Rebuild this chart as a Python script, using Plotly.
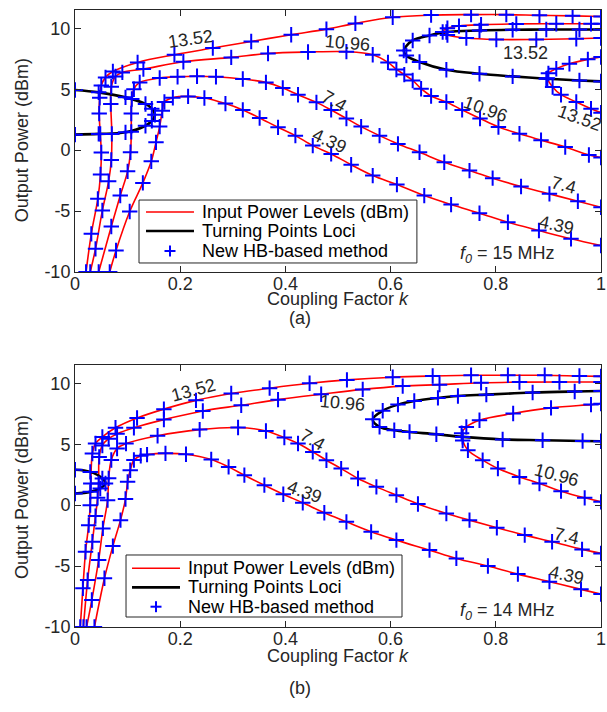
import plotly.graph_objects as go

# ================= panel (a): f0 = 15 MHz =================
a_k_4p39 = [0.066, 0.078, 0.104, 0.129, 0.145, 0.154, 0.161, 0.166, 0.170, 0.186, 0.215, 0.246, 0.286, 0.319, 0.351, 0.386, 0.419, 0.452, 0.487, 0.525, 0.566, 0.612, 0.664, 0.715, 0.769, 0.823, 0.882, 0.943, 1.0]
a_p_4p39 = [-10.0, -8.24, -5.04, -2.69, -0.92, 0.64, 1.93, 3.24, 3.95, 4.3, 4.41, 4.28, 3.82, 3.3, 2.64, 1.87, 1.19, 0.37, -0.31, -1.2, -2.09, -2.83, -3.73, -4.47, -5.18, -5.92, -6.6, -7.28, -7.83]

a_k_7p4 = [0.045, 0.069, 0.086, 0.100, 0.1055, 0.107, 0.107, 0.108, 0.112, 0.123, 0.161, 0.195, 0.232, 0.268, 0.319, 0.363, 0.395, 0.424, 0.459, 0.487, 0.516, 0.544, 0.579, 0.614, 0.655, 0.702, 0.750, 0.794, 0.848, 0.902, 0.956, 1.0]
a_p_7p4 = [-10.0, -6.27, -3.73, -1.74, -0.18, 1.5, 3.0, 4.2, 5.0, 5.56, 5.92, 6.02, 6.06, 6.02, 5.84, 5.56, 5.1, 4.55, 3.92, 3.3, 2.6, 1.93, 1.19, 0.51, -0.18, -1.0, -1.68, -2.3, -2.99, -3.59, -4.2, -4.69]

a_k_10p96 = [0.029, 0.039, 0.052, 0.064, 0.069, 0.070, 0.068, 0.069, 0.077, 0.090, 0.130, 0.206, 0.297, 0.367, 0.443, 0.516, 0.566, 0.595, 0.611, 0.626, 0.642, 0.658, 0.677, 0.706, 0.736, 0.770, 0.805, 0.845, 0.886, 0.932, 0.977, 1.0]
a_p_10p96 = [-10.0, -8.1, -4.96, -2.55, -0.8, 1.33, 3.79, 5.2, 6.05, 6.38, 6.65, 7.25, 7.61, 7.93, 8.05, 8.08, 7.83, 7.2, 6.62, 6.2, 5.72, 5.04, 4.44, 3.95, 3.3, 2.6, 1.9, 1.34, 0.82, 0.25, -0.4, -0.6]

a_k_13p52 = [0.021, 0.031, 0.0434, 0.0485, 0.050, 0.048, 0.046, 0.047, 0.050, 0.058, 0.072, 0.119, 0.189, 0.262, 0.335, 0.411, 0.478, 0.533, 0.604, 0.677, 0.753, 0.820, 0.883, 0.946, 1.0]
a_p_13p52 = [-10.0, -6.87, -4.0, -2.0, -0.2, 1.33, 3.0, 4.3, 5.3, 5.97, 6.45, 7.2, 7.83, 8.38, 8.92, 9.47, 9.93, 10.4, 10.9, 11.08, 11.12, 11.12, 11.06, 11.02, 10.97]

a_k_13p52_isola = [1.0, 0.981, 0.915, 0.839, 0.772, 0.730, 0.708, 0.699, 0.708, 0.744, 0.801, 0.877, 0.953, 1.0]
a_p_13p52_isola = [10.37, 10.37, 10.37, 10.36, 10.29, 10.18, 10.0, 9.69, 9.45, 9.2, 9.08, 9.08, 9.14, 9.2]

a_k_13p52_right = [1.0, 0.975, 0.940, 0.915, 0.900, 0.898, 0.908, 0.924, 0.953, 0.981, 1.0]
a_p_13p52_right = [7.64, 7.45, 7.09, 6.68, 6.3, 5.9, 5.18, 4.55, 3.95, 3.4, 3.07]

a_k_loci_left = [0.0, 0.045, 0.096, 0.134, 0.146, 0.152, 0.146, 0.134, 0.096, 0.045, 0.0]
a_p_loci_left = [4.93, 4.74, 4.33, 3.79, 3.4, 2.9, 2.4, 2.0, 1.46, 1.33, 1.27]

a_k_loci_right = [1.0, 0.959, 0.896, 0.832, 0.769, 0.706, 0.674, 0.642, 0.625, 0.630, 0.655, 0.706, 0.769, 0.832, 0.896, 0.959, 1.0]
a_p_loci_right = [9.9, 9.9, 9.9, 9.88, 9.82, 9.69, 9.41, 9.0, 8.18, 7.77, 7.23, 6.6, 6.27, 6.05, 5.86, 5.72, 5.64]

a_lbl_text = ["13.52", "10.96", "7.4", "4.39", "10.96", "13.52", "13.52", "7.4", "4.39"]
a_lbl_k = [0.22, 0.518, 0.493, 0.484, 0.78, 0.857, 0.959, 0.928, 0.915]
a_lbl_p = [9.1, 8.8, 4.06, 0.78, 3.36, 7.95, 2.6, -2.9, -6.15]
a_lbl_ang = [-8, 5, 30, 25, 20, 0, 20, 15, 12]

# ================= panel (b): f0 = 14 MHz =================
b_k_4p39 = [0.037, 0.056, 0.072, 0.0865, 0.096, 0.100, 0.105, 0.112, 0.125, 0.137, 0.172, 0.211, 0.259, 0.292, 0.322, 0.360, 0.396, 0.433, 0.474, 0.516, 0.563, 0.611, 0.674, 0.725, 0.785, 0.842, 0.902, 0.962, 1.0]
b_p_4p39 = [-10.0, -6.0, -3.36, -1.23, 0.5, 1.91, 2.87, 3.7, 4.05, 4.15, 4.25, 4.18, 3.75, 3.14, 2.46, 1.64, 0.9, 0.19, -0.63, -1.37, -2.19, -2.87, -3.69, -4.37, -5.0, -5.66, -6.28, -6.91, -7.3]

b_k_7p4 = [0.022, 0.032, 0.045, 0.053, 0.062, 0.064, 0.069, 0.080, 0.097, 0.157, 0.237, 0.310, 0.363, 0.398, 0.424, 0.452, 0.478, 0.506, 0.538, 0.573, 0.611, 0.652, 0.706, 0.750, 0.802, 0.855, 0.907, 0.964, 1.0]
b_p_7p4 = [-10.0, -7.79, -4.5, -1.91, 0.41, 2.2, 3.7, 4.65, 5.05, 5.7, 6.2, 6.37, 6.09, 5.55, 5.06, 4.37, 3.69, 3.0, 2.19, 1.5, 0.82, 0.1, -0.68, -1.23, -1.85, -2.46, -3.0, -3.63, -3.96]

b_k_10p96 = [0.016, 0.024, 0.033, 0.039, 0.043, 0.045, 0.046, 0.052, 0.064, 0.080, 0.112, 0.169, 0.243, 0.316, 0.386, 0.468, 0.547, 0.623, 0.693, 0.772, 0.845, 0.921, 1.0]
b_p_10p96 = [-10.0, -6.15, -3.0, -0.9, 0.6, 1.78, 3.96, 4.9, 5.45, 5.85, 6.35, 7.02, 7.73, 8.2, 8.66, 9.1, 9.5, 9.77, 9.89, 10.04, 10.1, 10.11, 10.11]

b_k_10p96_right = [1.0, 0.981, 0.905, 0.833, 0.769, 0.744, 0.735, 0.737, 0.747, 0.775, 0.804, 0.845, 0.883, 0.924, 0.969, 1.0]
b_p_10p96_right = [8.33, 8.25, 7.98, 7.52, 6.97, 6.42, 5.9, 5.3, 4.5, 3.69, 3.0, 2.32, 1.78, 1.15, 0.6, 0.27]

b_k_13p52 = [0.010, 0.015, 0.020, 0.026, 0.029, 0.030, 0.033, 0.039, 0.052, 0.077, 0.118, 0.169, 0.230, 0.297, 0.370, 0.446, 0.517, 0.604, 0.680, 0.753, 0.823, 0.893, 0.959, 1.0]
b_p_13p52 = [-10.0, -6.83, -3.83, -1.64, 0.0, 1.78, 4.24, 5.06, 5.6, 6.35, 7.15, 7.88, 8.6, 9.16, 9.6, 10.0, 10.28, 10.5, 10.6, 10.66, 10.66, 10.66, 10.6, 10.57]

b_k_loci_left = [0.0, 0.029, 0.052, 0.058, 0.048, 0.029, 0.0]
b_p_loci_left = [2.9, 2.73, 2.19, 1.78, 1.37, 1.09, 0.95]

b_k_loci_right = [1.0, 0.950, 0.870, 0.782, 0.728, 0.690, 0.645, 0.614, 0.585, 0.566, 0.579, 0.607, 0.636, 0.687, 0.737, 0.813, 0.889, 0.965, 1.0]
b_p_loci_right = [9.37, 9.33, 9.24, 9.07, 8.96, 8.8, 8.55, 8.25, 7.75, 7.05, 6.42, 6.15, 6.01, 5.82, 5.6, 5.39, 5.33, 5.27, 5.25]

b_lbl_text = ["13.52", "10.96", "7.4", "4.39", "10.96", "7.4", "4.39"]
b_lbl_k = [0.226, 0.509, 0.452, 0.437, 0.916, 0.934, 0.934]
b_lbl_p = [9.43, 8.4, 5.33, 1.07, 2.46, -2.54, -5.74]
b_lbl_ang = [-15, 5, 30, 20, 15, 13, 12]

legend_names = ["Input Power Levels (dBm)", "Turning Points Loci", "New HB-based method"]

x_ticks = [0, 0.2, 0.4, 0.6, 0.8, 1.0]
x_tick_text = ["0", "0.2", "0.4", "0.6", "0.8", "1"]
y_ticks = [-10, -5, 0, 5, 10]
y_tick_text = ["-10", "-5", "0", "5", "10"]

FONT = "Arial, Liberation Sans, Helvetica, sans-serif"
FS = 18
TXT = "#262626"
RED = "#FF0000"
BLUE = "#0000FF"

fig = go.Figure()

panels = [
    dict(xa="x", ya="y",
         red=[(a_k_13p52, a_p_13p52), (a_k_10p96, a_p_10p96), (a_k_7p4, a_p_7p4), (a_k_4p39, a_p_4p39),
              (a_k_13p52_isola, a_p_13p52_isola), (a_k_13p52_right, a_p_13p52_right)],
         black=[(a_k_loci_left, a_p_loci_left), (a_k_loci_right, a_p_loci_right)]),
    dict(xa="x2", ya="y2",
         red=[(b_k_13p52, b_p_13p52), (b_k_10p96, b_p_10p96), (b_k_7p4, b_p_7p4), (b_k_4p39, b_p_4p39),
              (b_k_10p96_right, b_p_10p96_right)],
         black=[(b_k_loci_left, b_p_loci_left), (b_k_loci_right, b_p_loci_right)]),
]

for pnl in panels:
    for k, p in pnl["red"]:
        fig.add_trace(go.Scatter(x=k, y=p, xaxis=pnl["xa"], yaxis=pnl["ya"], mode="lines",
                                 line=dict(color=RED, width=1.6, shape="spline", smoothing=1.0),
                                 name=legend_names[0], showlegend=False, hoverinfo="skip"))
    for k, p in pnl["black"]:
        fig.add_trace(go.Scatter(x=k, y=p, xaxis=pnl["xa"], yaxis=pnl["ya"], mode="lines",
                                 line=dict(color="black", width=2.6, shape="spline", smoothing=1.0),
                                 name=legend_names[1], showlegend=False, hoverinfo="skip"))
    mk, mp = [], []
    for k, p in pnl["red"] + pnl["black"]:
        mk += k
        mp += p
    fig.add_trace(go.Scatter(x=mk, y=mp, xaxis=pnl["xa"], yaxis=pnl["ya"], mode="markers",
                             marker=dict(symbol="cross-thin", size=11, color=BLUE,
                                         line=dict(color=BLUE, width=2)),
                             name=legend_names[2], showlegend=False, hoverinfo="skip"))

axis_common = dict(showline=True, linecolor=TXT, linewidth=1, mirror="ticks", ticks="inside",
                   ticklen=6, tickcolor=TXT, showgrid=False, zeroline=False, automargin=False,
                   tickfont=dict(size=FS, color=TXT, family=FONT))
xax = dict(axis_common, range=[0, 1], tickvals=x_ticks, ticktext=x_tick_text, ticklabelstandoff=-5)
yax = dict(axis_common, range=[-10, 11.5], tickvals=y_ticks, ticktext=y_tick_text)

top_dom = [0.5754, 1.0]
bot_dom = [0.0, 0.4246]


def txt(text, x, y, xref="paper", yref="paper", angle=0, xanchor="center", yanchor="middle", color=TXT):
    return dict(text=text, x=x, y=y, xref=xref, yref=yref, showarrow=False, textangle=angle,
                xanchor=xanchor, yanchor=yanchor, font=dict(size=FS, color=color, family=FONT))


annotations = []
for texts, ks, ps, angs, xr, yr in [(a_lbl_text, a_lbl_k, a_lbl_p, a_lbl_ang, "x", "y"),
                                     (b_lbl_text, b_lbl_k, b_lbl_p, b_lbl_ang, "x2", "y2")]:
    for t, k, p, a in zip(texts, ks, ps, angs):
        annotations.append(txt(t, k, p, xr, yr, a))

annotations += [
    txt("<i>f<sub>0</sub></i> = 15 MHz", 0.823, -8.6, "x", "y"),
    txt("<i>f<sub>0</sub></i> = 14 MHz", 0.823, -8.7, "x2", "y2"),
    txt("Coupling Factor <i>k</i>", 0.5, 0.532),
    txt("Coupling Factor <i>k</i>", 0.5, -0.0465),
    txt("Output Power (dBm)", -0.1008, 0.789, angle=-90),
    txt("Output Power (dBm)", -0.1008, 0.2107, angle=-90),
    txt("(a)", 0.4278, 0.5008),
    txt("(b)", 0.4278, -0.0989),
]

# ---- hand-built legends (box, line samples, "+" sample, texts) ----
shapes = []
legend_boxes = [
    dict(x0=0.1217, x1=0.650, y0=0.590, y1=0.692, lx0=0.135, lx1=0.2262, tx=0.2376,
         rows=[0.6726, 0.6418, 0.6094]),
    dict(x0=0.097, x1=0.6217, y0=0.0162, y1=0.1167, lx0=0.1084, lx1=0.1996, tx=0.211,
         rows=[0.0951, 0.0643, 0.0329]),
]
for lb in legend_boxes:
    shapes.append(dict(type="rect", xref="paper", yref="paper", x0=lb["x0"], x1=lb["x1"],
                       y0=lb["y0"], y1=lb["y1"], fillcolor="white", line=dict(color=TXT, width=1),
                       layer="above"))
    r0, r1, r2 = lb["rows"]
    shapes.append(dict(type="line", xref="paper", yref="paper", x0=lb["lx0"], x1=lb["lx1"],
                       y0=r0, y1=r0, line=dict(color=RED, width=1.6), layer="above"))
    shapes.append(dict(type="line", xref="paper", yref="paper", x0=lb["lx0"], x1=lb["lx1"],
                       y0=r1, y1=r1, line=dict(color="black", width=2.6), layer="above"))
    cx = (lb["lx0"] + lb["lx1"]) / 2
    hx, hy = 5.5 / 526, 5.5 / 617
    shapes.append(dict(type="line", xref="paper", yref="paper", x0=cx - hx, x1=cx + hx,
                       y0=r2, y1=r2, line=dict(color=BLUE, width=2), layer="above"))
    shapes.append(dict(type="line", xref="paper", yref="paper", x0=cx, x1=cx,
                       y0=r2 - hy, y1=r2 + hy, line=dict(color=BLUE, width=2), layer="above"))
    for name, ry in zip(legend_names, lb["rows"]):
        annotations.append(txt(name, lb["tx"], ry, xanchor="left", color="black"))

fig.update_layout(
    template="none",
    width=607, height=712,
    margin=dict(l=75, r=6, t=10, b=85, autoexpand=False),
    paper_bgcolor="white", plot_bgcolor="white",
    font=dict(family=FONT, size=FS, color=TXT),
    xaxis=dict(xax, domain=[0, 1], anchor="y"),
    yaxis=dict(yax, domain=top_dom, anchor="x"),
    xaxis2=dict(xax, domain=[0, 1], anchor="y2"),
    yaxis2=dict(yax, domain=bot_dom, anchor="x2"),
    annotations=annotations,
    shapes=shapes,
    showlegend=False,
)

pin_js = ("document.body.style.margin='0px';"
          "var gd=document.getElementById('{plot_id}');"
          "gd.style.position='fixed';gd.style.left='0px';gd.style.top='0px';")

fig.write_html("out.html", post_script=pin_js, config={"displayModeBar": False})
